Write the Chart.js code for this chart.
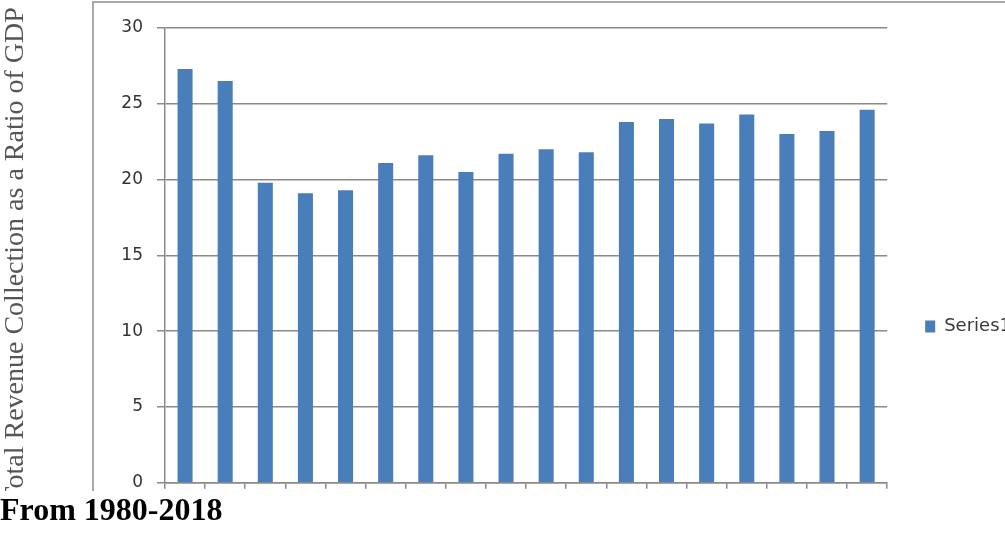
<!DOCTYPE html>
<html>
<head>
<meta charset="utf-8">
<script src="https://cdn.jsdelivr.net/npm/chart.js@4/dist/chart.umd.min.js"></script>
<style>
  html, body { margin: 0; padding: 0; background: #ffffff; }
  body { width: 1005px; height: 533px; overflow: hidden; position: relative; }
  #wrap { position: absolute; left: 0; top: 0; width: 1005px; height: 496px; overflow: hidden; }
  #frame { position: absolute; left: 92px; top: 1px; width: 1000px; height: 600px;
           border: 2px solid #a9a9a9; box-sizing: border-box; }
  #chart { position: absolute; left: 0; top: 0; }
  #caption { position: absolute; left: 0; top: 491px; margin: 0;
             font: bold 32px "Liberation Serif", "Times New Roman", serif;
             line-height: 36px; color: #000; white-space: nowrap; background: #fff; }
</style>
</head>
<body>
<div id="wrap">
  <div id="frame"></div>
  <canvas id="chart" width="1021" height="507"></canvas>
</div>
<p id="caption">From 1980-2018</p>
<script>
// One bar per period; the periods carry no printed labels on the axis.
const categories = ['', '', '', '', '', '', '', '', '', '', '', '', '', '', '', '', '', ''];
const revenueRatio = [27.3, 26.5, 19.8, 19.1, 19.3, 21.1, 21.6, 20.5, 21.7, 22.0,
                      21.8, 23.8, 24.0, 23.7, 24.3, 23.0, 23.2, 24.6];
const seriesName = 'Series1';
const yAxisTitle = 'Total Revenue Collection as a Ratio of GDP';
const yTickMin = 0;
const yTickMax = 30;
const yTickStep = 5;

const axisGrey = '#8a8a8a';
const tickFont = { family: '"DejaVu Sans", Verdana, sans-serif', size: 17 };

new Chart(document.getElementById('chart'), {
  type: 'bar',
  data: {
    labels: categories,
    datasets: [{
      label: seriesName,
      data: revenueRatio,
      backgroundColor: '#4a7ebb',
      borderWidth: 0,
      categoryPercentage: 1.0,
      barPercentage: 0.375
    }]
  },
  options: {
    responsive: false,
    animation: false,
    layout: { padding: { top: 28, bottom: 0, left: 0, right: 0 } },
    plugins: {
      tooltip: { enabled: false },
      legend: {
        position: 'right',
        align: 'center',
        // an empty legend heading, used only as spacing to lower the key
        title: { display: true, text: '', font: { size: 10 }, padding: { top: 0, bottom: 106 } },
        labels: {
          boxWidth: 10,
          boxHeight: 12,
          padding: 38,
          color: '#3a3a3a',
          font: { family: '"DejaVu Sans", Verdana, sans-serif', size: 18 }
        }
      }
    },
    scales: {
      x: {
        type: 'category',
        offset: true,
        grid: {
          offset: true,
          drawOnChartArea: false,
          drawTicks: true,
          tickLength: 6,
          color: axisGrey,
          lineWidth: 1.5
        },
        border: { display: true, color: axisGrey, width: 1.5 },
        ticks: { display: false }
      },
      y: {
        min: yTickMin,
        max: yTickMax,
        afterFit: (scale) => { scale.width = 165; },
        ticks: {
          stepSize: yTickStep,
          padding: 14,
          color: '#333333',
          font: tickFont
        },
        grid: {
          color: axisGrey,
          lineWidth: 1.5,
          tickLength: 8,
          drawTicks: true
        },
        border: { display: true, color: axisGrey, width: 1.5 },
        title: {
          display: true,
          text: yAxisTitle,
          color: '#555555',
          padding: 0,
          font: { family: '"Liberation Serif", "Times New Roman", serif', size: 28, lineHeight: 1.1 }
        }
      }
    }
  }
});
</script>
</body>
</html>
